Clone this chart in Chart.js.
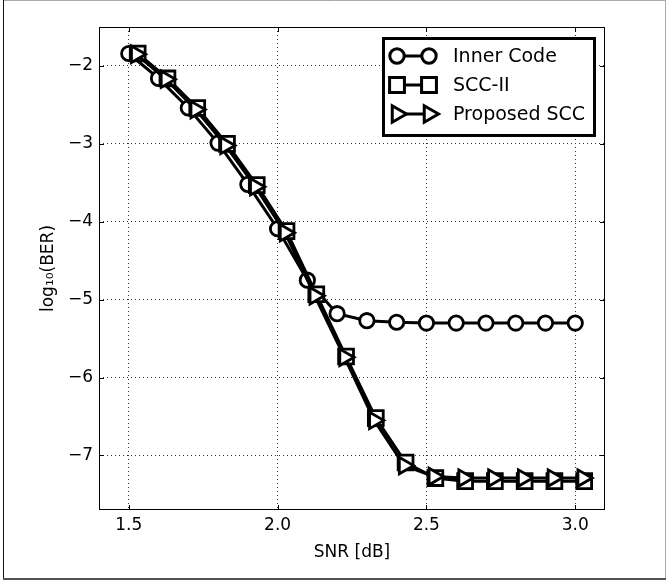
<!doctype html>
<html lang="en">
<head>
  <meta charset="utf-8">
  <title>BER vs SNR</title>
  <script src="https://cdn.jsdelivr.net/npm/chart.js"></script>
  <style>
    html, body { margin: 0; padding: 0; background: #fff; }
    #wrap { width: 666px; height: 584px; }
  </style>
</head>
<body>
  <div id="wrap"><canvas id="berChart" width="666" height="584"></canvas></div>

  <script>
    // values (log10 of BER)
    const snrInner = [1.5, 1.6, 1.7, 1.8, 1.9, 2.0, 2.1, 2.2, 2.3, 2.4, 2.5, 2.6, 2.7, 2.8, 2.9, 3.0];
    const snrScc2 = [1.53, 1.63, 1.73, 1.83, 1.93, 2.03, 2.13, 2.23, 2.33, 2.43, 2.53, 2.63, 2.73, 2.83, 2.93, 3.03];
    const snrProposed = [1.525, 1.625, 1.725, 1.825, 1.925, 2.025, 2.125, 2.225, 2.325, 2.425, 2.525, 2.625, 2.725, 2.825, 2.925, 3.025];

    const innerCode = [-1.84, -2.16, -2.54, -2.99, -3.52, -4.09, -4.75, -5.18, -5.27, -5.29, -5.30, -5.30, -5.30, -5.30, -5.30, -5.30];
    const scc2 = [-1.84, -2.16, -2.54, -3.00, -3.53, -4.12, -4.93, -5.73, -6.52, -7.09, -7.29, -7.33, -7.33, -7.33, -7.33, -7.33];
    const proposed = [-1.85, -2.17, -2.56, -3.02, -3.55, -4.14, -4.95, -5.74, -6.55, -7.13, -7.27, -7.29, -7.29, -7.29, -7.29, -7.29];

    const xTicks = [1.5, 2.0, 2.5, 3.0];
    const yTicks = [-7, -6, -5, -4, -3, -2];

    const pts = (xs, ys) => xs.map((x, i) => ({ x, y: ys[i] }));
    const FONT = 'DejaVu Sans';

    function marker(ctx, style, x, y, r) {
      ctx.beginPath();
      if (style === 'circle') {
        ctx.arc(x, y, r, 0, Math.PI * 2);
      } else if (style === 'rect') {
        const s = Math.SQRT1_2 * r;
        ctx.rect(x - s, y - s, 2 * s, 2 * s);
      } else {
        // right-pointing triangle
        let a = Math.PI / 2;
        ctx.moveTo(x + Math.sin(a) * r, y - Math.cos(a) * r);
        a += 2 * Math.PI / 3;
        ctx.lineTo(x + Math.sin(a) * r, y - Math.cos(a) * r);
        a += 2 * Math.PI / 3;
        ctx.lineTo(x + Math.sin(a) * r, y - Math.cos(a) * r);
        ctx.closePath();
      }
      ctx.fill();
      ctx.stroke();
    }

    // frame, axes box, inward ticks and the legend, matplotlib-like
    const decor = {
      id: 'decor',
      beforeDraw(chart) {
        const ctx = chart.ctx;
        ctx.save();
        ctx.fillStyle = '#fff';
        ctx.fillRect(0, 0, chart.width, chart.height);
        ctx.lineWidth = 1;
        ctx.strokeStyle = '#aaa';
        ctx.beginPath(); ctx.moveTo(3, 0.5); ctx.lineTo(666, 0.5); ctx.stroke();
        ctx.beginPath(); ctx.moveTo(665.5, 0); ctx.lineTo(665.5, 580); ctx.stroke();
        ctx.strokeStyle = '#111';
        ctx.beginPath(); ctx.moveTo(3.5, 0); ctx.lineTo(3.5, 580); ctx.stroke();
        ctx.strokeStyle = '#555';
        ctx.lineWidth = 2;
        ctx.beginPath(); ctx.moveTo(3, 579); ctx.lineTo(666, 579); ctx.stroke();
        ctx.restore();
      },
      afterDraw(chart) {
        const ctx = chart.ctx;
        const a = chart.chartArea;
        const xs = chart.scales.x, ys = chart.scales.y;
        ctx.save();
        ctx.strokeStyle = '#000';
        ctx.lineWidth = 1;
        ctx.strokeRect(Math.round(a.left) + 0.5, Math.round(a.top) + 0.5,
          Math.round(a.right - a.left) - 1, Math.round(a.bottom - a.top) - 1);
        ctx.beginPath();
        xTicks.forEach(v => {
          const px = Math.round(xs.getPixelForValue(v)) + 0.5;
          ctx.moveTo(px, a.bottom); ctx.lineTo(px, a.bottom - 5);
          ctx.moveTo(px, a.top); ctx.lineTo(px, a.top + 5);
        });
        yTicks.forEach(v => {
          const py = Math.round(ys.getPixelForValue(v)) + 0.5;
          ctx.moveTo(a.left, py); ctx.lineTo(a.left + 5, py);
          ctx.moveTo(a.right, py); ctx.lineTo(a.right - 5, py);
        });
        ctx.stroke();

        // legend
        const box = { x: 383.5, y: 38.5, w: 211, h: 97 };
        ctx.fillStyle = '#fff';
        ctx.fillRect(box.x, box.y, box.w, box.h);
        ctx.lineWidth = 3;
        ctx.strokeRect(box.x, box.y, box.w, box.h);
        ctx.font = '19px "' + FONT + '"';
        ctx.textBaseline = 'middle';
        chart.data.datasets.forEach((ds, i) => {
          const cy = 56 + i * 29;
          ctx.strokeStyle = '#000';
          ctx.lineWidth = 3;
          ctx.beginPath(); ctx.moveTo(397, cy); ctx.lineTo(429, cy); ctx.stroke();
          ctx.fillStyle = '#fff';
          marker(ctx, ds.pointStyle, 397, cy, ds.pointRadius);
          marker(ctx, ds.pointStyle, 429, cy, ds.pointRadius);
          ctx.fillStyle = '#000';
          ctx.fillText(ds.label, 453, cy + 1);
        });
        ctx.restore();
      }
    };

    const common = {
      borderColor: '#000',
      borderWidth: 3,
      pointBackgroundColor: '#fff',
      pointBorderColor: '#000',
      pointBorderWidth: 2.8,
      tension: 0,
      fill: false
    };

    new Chart(document.getElementById('berChart').getContext('2d'), {
      type: 'line',
      data: {
        datasets: [
          { ...common, label: 'Inner Code', data: pts(snrInner, innerCode), pointStyle: 'circle', pointRadius: 7.2, order: 3 },
          { ...common, label: 'SCC-II', data: pts(snrScc2, scc2), pointStyle: 'rect', pointRadius: 10.5, order: 2 },
          { ...common, label: 'Proposed SCC', data: pts(snrProposed, proposed), pointStyle: 'triangle', pointRotation: 90, pointRadius: 9.5, order: 1 }
        ]
      },
      options: {
        responsive: false,
        animation: false,
        layout: { padding: { left: 34, right: 61, top: 27, bottom: 17 } },
        plugins: { legend: { display: false }, tooltip: { enabled: false } },
        scales: {
          x: {
            type: 'linear',
            min: 1.4,
            max: 3.1,
            afterFit: s => { s.height = 57; },
            afterBuildTicks: s => { s.ticks = xTicks.map(v => ({ value: v })); },
            ticks: {
              color: '#000',
              padding: 5,
              font: { family: FONT, size: 17 },
              callback: v => Number(v).toFixed(1)
            },
            grid: { color: '#333', lineWidth: 1, drawTicks: false },
            border: { display: false, dash: [1, 3] },
            title: { display: true, text: 'SNR [dB]', color: '#000', font: { family: FONT, size: 17 } }
          },
          y: {
            min: -7.7,
            max: -1.5,
            afterFit: s => { s.width = 65; },
            afterBuildTicks: s => { s.ticks = yTicks.map(v => ({ value: v })); },
            ticks: {
              color: '#000',
              padding: 6,
              font: { family: FONT, size: 17 },
              callback: v => '\u2212' + Math.abs(v)
            },
            grid: { color: '#333', lineWidth: 1, drawTicks: false },
            border: { display: false, dash: [1, 3] },
            title: { display: true, text: 'log\u2081\u2080(BER)', color: '#000', font: { family: FONT, size: 17 } }
          }
        }
      },
      plugins: [decor]
    });
  </script>
</body>
</html>
